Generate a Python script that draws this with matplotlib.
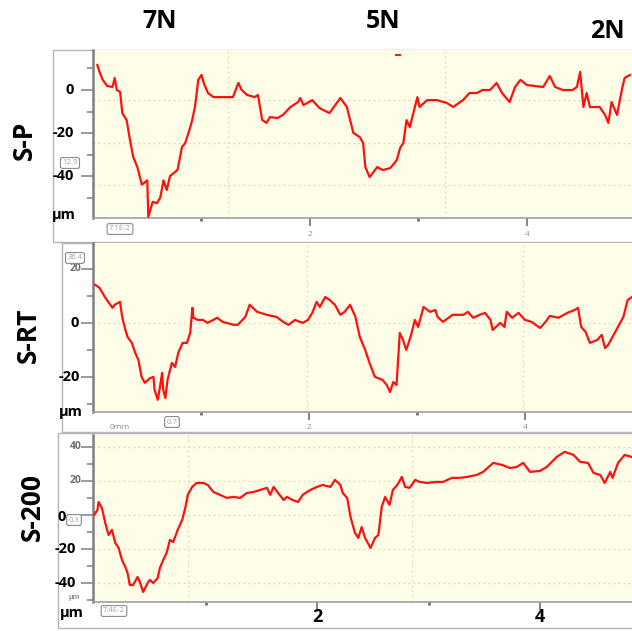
import matplotlib
matplotlib.use("Agg")
import matplotlib.pyplot as plt
from matplotlib.patches import Rectangle

plt.rcParams['font.family'] = ['Open Sans', 'DejaVu Sans']

# scratch depth profiles, x in mm, depth in um
sp_x = [0.04, 0.06, 0.09, 0.13, 0.18, 0.20, 0.22, 0.25, 0.27, 0.31, 0.34, 0.37, 0.41, 0.45,
        0.50, 0.51, 0.55, 0.59, 0.62, 0.65, 0.68, 0.71, 0.76, 0.78, 0.82, 0.85, 0.88, 0.91,
        0.94, 0.97, 1.00, 1.02, 1.06, 1.11, 1.24, 1.29, 1.34, 1.37, 1.42, 1.49, 1.52, 1.56,
        1.60, 1.63, 1.70, 1.75, 1.82, 1.89, 1.91, 1.94, 2.02, 2.09, 2.18, 2.28, 2.34, 2.40,
        2.46, 2.49, 2.51, 2.55, 2.62, 2.67, 2.74, 2.80, 2.83, 2.86, 2.89, 2.92, 2.99, 3.01,
        3.08, 3.17, 3.26, 3.32, 3.41, 3.47, 3.54, 3.59, 3.66, 3.72, 3.77, 3.84, 3.89, 3.94,
        4.00, 4.15, 4.21, 4.26, 4.33, 4.42, 4.46, 4.49, 4.52, 4.55, 4.58, 4.67, 4.72, 4.75,
        4.78, 4.83, 4.88, 4.90, 4.95]
sp_y = [11.6, 8.4, 4.7, 1.9, 1.4, 5.6, 0.0, -0.9, -10.7, -14.0, -23.0, -31.0, -36.0, -44.0,
        -42.0, -59.0, -52.0, -52.6, -50.0, -42.0, -46.5, -40.0, -38.0, -37.0, -26.5, -24.7, -20.0, -14.9,
        -7.9, 4.7, 7.0, 3.3, -1.4, -3.3, -3.3, -3.3, 3.3, 0.0, -2.3, -3.3, -2.3, -14.0,
        -15.3, -12.6, -13.0, -11.6, -7.9, -5.6, -3.7, -7.0, -4.7, -8.5, -10.7, -3.7, -7.9, -20.0,
        -21.9, -24.7, -35.8, -40.5, -35.8, -37.2, -36.3, -32.6, -27.0, -24.7, -14.0, -17.2, -3.3, -7.9,
        -4.7, -4.7, -6.0, -7.9, -4.7, -1.4, -1.4, 0.0, 0.0, 3.3, -1.4, -5.6, 1.4, 4.7,
        2.3, 1.4, 6.5, 1.4, 0.0, 0.0, 1.4, 8.4, -7.9, -1.4, -7.9, -7.9, -11.6, -15.3,
        -5.6, -11.6, 1.4, 5.6, 7.0]
sp_spot_x = [2.79, 2.83]
sp_spot_y = [16.3, 16.3]

srt_x = [0.02, 0.06, 0.11, 0.18, 0.20, 0.25, 0.27, 0.30, 0.32, 0.36, 0.39, 0.42, 0.45, 0.48,
         0.53, 0.56, 0.57, 0.60, 0.62, 0.64, 0.65, 0.67, 0.69, 0.73, 0.76, 0.79, 0.83, 0.87,
         0.90, 0.92, 0.93, 0.97, 1.02, 1.06, 1.15, 1.20, 1.30, 1.34, 1.41, 1.45, 1.52, 1.61,
         1.70, 1.76, 1.81, 1.87, 1.94, 1.99, 2.03, 2.07, 2.10, 2.15, 2.19, 2.24, 2.29, 2.33,
         2.38, 2.43, 2.47, 2.52, 2.56, 2.61, 2.68, 2.72, 2.75, 2.78, 2.81, 2.84, 2.87, 2.90,
         2.94, 2.98, 3.01, 3.06, 3.12, 3.17, 3.19, 3.24, 3.33, 3.43, 3.47, 3.52, 3.58, 3.63,
         3.68, 3.70, 3.77, 3.81, 3.83, 3.88, 3.94, 4.00, 4.06, 4.14, 4.19, 4.23, 4.31, 4.39,
         4.46, 4.49, 4.52, 4.56, 4.60, 4.67, 4.71, 4.74, 4.77, 4.81, 4.86, 4.91, 4.95, 4.99]
srt_y = [14.1, 13.0, 9.6, 5.6, 6.7, 7.8, 2.2, -2.6, -5.2, -7.4, -11.0, -13.7, -20.0, -22.2,
         -20.4, -20.0, -24.8, -28.5, -23.7, -18.5, -24.8, -27.8, -21.1, -14.8, -16.3, -11.0, -7.4, -7.4,
         -3.7, 5.6, 1.9, 1.1, 1.1, 0.0, 1.9, 0.4, -0.7, -0.7, 2.2, 6.7, 4.1, 3.0,
         2.2, 0.4, -0.7, 1.1, 0.0, 1.1, 3.7, 7.8, 5.9, 9.6, 8.5, 6.7, 3.0, 4.1,
         6.7, 2.2, -5.2, -10.0, -14.8, -20.0, -21.1, -23.0, -25.6, -21.9, -23.0, -3.7, -6.3, -10.0,
         -5.2, 1.1, -1.5, 5.9, 4.1, 4.8, 2.2, 0.4, 3.0, 3.0, 4.1, 1.9, 3.0, 3.7,
         1.1, -2.6, 0.0, -1.5, 4.1, 1.9, 3.7, 1.1, 0.4, -1.9, 0.4, 2.6, 1.9, 3.7,
         4.8, 5.6, -1.5, -3.3, -7.4, -6.3, -4.4, -9.3, -8.1, -5.2, -1.5, 2.2, 8.5, 9.6]

s200_x = [0.00, 0.03, 0.04, 0.07, 0.10, 0.13, 0.16, 0.19, 0.22, 0.25, 0.28, 0.30, 0.32, 0.35,
          0.39, 0.41, 0.44, 0.48, 0.50, 0.53, 0.57, 0.59, 0.62, 0.65, 0.68, 0.71, 0.75, 0.79,
          0.82, 0.84, 0.88, 0.92, 0.98, 1.02, 1.07, 1.13, 1.19, 1.25, 1.31, 1.37, 1.43, 1.49,
          1.55, 1.58, 1.61, 1.65, 1.70, 1.73, 1.78, 1.83, 1.87, 1.94, 2.00, 2.05, 2.12, 2.16,
          2.21, 2.23, 2.27, 2.30, 2.34, 2.37, 2.40, 2.43, 2.48, 2.52, 2.55, 2.58, 2.61, 2.65,
          2.68, 2.72, 2.76, 2.79, 2.83, 2.88, 2.92, 2.99, 3.06, 3.13, 3.21, 3.28, 3.35, 3.43,
          3.49, 3.58, 3.66, 3.73, 3.79, 3.85, 3.91, 4.00, 4.06, 4.15, 4.22, 4.30, 4.36, 4.43,
          4.48, 4.54, 4.58, 4.63, 4.65, 4.70, 4.76, 4.82]
s200_y = [0.0, 2.9, 7.6, 4.1, -4.7, -11.8, -8.8, -16.5, -19.4, -26.5, -30.6, -34.1, -41.2, -41.2,
          -36.5, -39.4, -45.3, -40.0, -38.2, -40.0, -37.1, -31.2, -26.5, -22.4, -14.7, -15.9, -8.8, -2.9,
          4.7, 11.8, 16.5, 18.8, 18.8, 17.6, 13.5, 11.8, 10.0, 10.6, 10.0, 12.9, 13.5, 14.7,
          15.9, 11.8, 16.5, 12.9, 8.8, 10.6, 8.8, 7.6, 11.8, 14.7, 16.5, 17.6, 16.5, 20.6,
          17.6, 12.9, 10.0, -1.2, -10.6, -13.5, -7.1, -13.5, -19.4, -13.5, -11.8, 4.7, 10.6, 5.9,
          14.7, 17.6, 22.4, 16.5, 15.9, 20.6, 19.4, 18.8, 19.4, 19.4, 21.8, 21.8, 22.4, 23.5,
          25.3, 30.6, 29.4, 27.6, 28.2, 30.6, 25.3, 25.9, 28.2, 34.1, 37.1, 35.3, 31.2, 30.6,
          24.7, 23.5, 18.8, 25.3, 21.8, 30.6, 35.3, 34.1]

loads = ['7N', '5N', '2N']
samples = ['S-P', 'S-RT', 'S-200']

W, H = 632, 631
YELLOW = '#fefee8'
RED = '#ff1010'
GREY = '#8c8c8c'

fig = plt.figure(figsize=(W / 100, H / 100), dpi=100)
fig.patch.set_facecolor('white')


def fx(px):
    return px / W


def fy(py):
    return 1 - py / H


def frame(x0, y0, x1, y1):
    fig.add_artist(Rectangle((fx(x0), fy(y1)), fx(x1 - x0), (y1 - y0) / H,
                             transform=fig.transFigure, fc='white', ec='#b5b5b5',
                             lw=1.0, zorder=-2))


def panel(x0, y0, x1, y1, xlim, ylim, xs, ys, ymaj, ymin, hgrid, vgrid):
    ax = fig.add_axes([fx(x0), fy(y1), fx(x1 - x0), (y1 - y0) / H])
    ax.set_facecolor(YELLOW)
    for v in hgrid:
        ax.axhline(v, color='#dedbb4', lw=0.9, ls=(0, (1.5, 2.5)), zorder=1)
    for v in vgrid:
        ax.axvline(v, color='#dedbb4', lw=0.9, ls=(0, (1.5, 2.5)), zorder=1)
    ax.plot(xs, ys, color=RED, lw=1.6, solid_joinstyle='round', zorder=3)
    ax.set_xlim(*xlim)
    ax.set_ylim(*ylim)
    for s in ['top', 'right']:
        ax.spines[s].set_visible(False)
    ax.spines['left'].set_color('#808080')
    ax.spines['left'].set_linewidth(1.8)
    ax.spines['bottom'].set_color('#a0a0a0')
    ax.spines['bottom'].set_linewidth(1.2)
    ax.set_yticks(ymaj)
    ax.set_yticks(ymin, minor=True)
    ax.set_xticks([2, 4])
    ax.set_xticks([1, 3], minor=True)
    ax.tick_params(axis='y', which='major', length=9, width=1.2, color='#8a8a8a', labelleft=False)
    ax.tick_params(axis='y', which='minor', length=4, width=1.2, color='#8a8a8a')
    ax.tick_params(axis='x', which='major', length=6, width=1.2, color='#707070', labelbottom=False)
    ax.tick_params(axis='x', which='minor', length=2, width=2, color='#707070')
    return ax


def ylabel(ax, val, s, xpx, x0, x1, **kw):
    frac = (xpx - x0) / (x1 - x0)
    opts = dict(ha='right', va='center', fontsize=10.5, fontweight='bold', color='black')
    opts.update(kw)
    ax.text(frac, val, s, transform=ax.get_yaxis_transform(), clip_on=False, **opts)


def tag(xpx, ypx, s):
    fig.text(fx(xpx), fy(ypx), s, ha='center', va='center', fontsize=5.5, color='#a0a0a0',
             bbox=dict(boxstyle='round,pad=0.25', fc='white', ec='#8a8a8a', lw=0.8))


# frames behind each profile
frame(53, 50, 645, 242)
frame(62, 243, 645, 432)
frame(58, 433, 645, 628)

# S-P
ax1 = panel(93, 50, 632, 218, (0, 4.968), (-59.5, 18.6), sp_x, sp_y,
            [0, -20, -40], [10, -10, -30, -50], [-4.7, -24.5, -44.3], [1.24, 3.24])
ax1.plot(sp_spot_x, sp_spot_y, color=RED, lw=1.4, zorder=3)
for v, s in [(0, '0'), (-20, '-20'), (-40, '-40')]:
    ylabel(ax1, v, s, 74, 93, 632)
ylabel(ax1, -58, 'µm', 76, 93, 632)
for v in [2, 4]:
    ax1.text(v, -0.1, str(v), transform=ax1.get_xaxis_transform(), ha='center', va='center',
             fontsize=6, color='#909090')
tag(70, 163, '12.9')
tag(120, 229, '7.1E-2')

# S-RT
ax2 = panel(93, 243, 632, 412, (0, 4.99), (-33.0, 29.6), srt_x, srt_y,
            [20, 0, -20], [10, -10, -30], [0], [1.98, 3.98])
ylabel(ax2, 20, '20', 82, 93, 632, fontsize=7.5, color='#707070')
ylabel(ax2, 0, '0', 79, 93, 632)
ylabel(ax2, -20, '-20', 80, 93, 632)
ylabel(ax2, -33, 'µm', 83, 93, 632)
for v in [2, 4]:
    ax2.text(v, -0.09, str(v), transform=ax2.get_xaxis_transform(), ha='center', va='center',
             fontsize=6, color='#909090')
ax2.text(0.03, -0.09, '0mm', transform=ax2.transAxes, ha='left', va='center',
         fontsize=6, color='#909090')
tag(75, 258, '36.4')
tag(172, 422, '0.7')

# S-200
ax3 = panel(93, 435, 632, 602, (-0.01, 4.825), (-51.2, 47.0), s200_x, s200_y,
            [40, 20, 0, -20, -40], [30, 10, -10, -30, -50], [40, 20, 0, -20, -40], [0.84, 2.85])
ylabel(ax3, 40, '40', 82, 93, 632, fontsize=7.5, color='#707070')
ylabel(ax3, 20, '20', 82, 93, 632, fontsize=7.5, color='#707070')
ylabel(ax3, -1, '0', 66, 93, 632)
ylabel(ax3, -20, '-20', 76, 93, 632)
ylabel(ax3, -40, '-40', 76, 93, 632)
ylabel(ax3, -48.5, 'µm', 80, 93, 632, fontsize=5, color='#909090')
ax3.text(-0.04, -0.065, 'µm', transform=ax3.transAxes, ha='center', va='center',
         fontsize=10.5, fontweight='bold')
for v in [2, 4]:
    ax3.text(v, -0.09, str(v), transform=ax3.get_xaxis_transform(), ha='center', va='center',
             fontsize=13, fontweight='bold')
tag(74, 520, '0.3')
tag(114, 611, '7.4E-2')

# load and sample labels
for s, (xp, yp) in zip(loads, [(160, 22), (383, 22), (607, 32)]):
    fig.text(fx(xp), fy(yp), s, ha='center', va='center', fontsize=18, fontweight='bold')
for s, (xp, yp) in zip(samples, [(24, 140), (28, 335), (32, 507)]):
    fig.text(fx(xp), fy(yp), s, ha='center', va='center', fontsize=19, fontweight='bold',
             rotation=90)

fig.savefig('out.png', dpi=100, facecolor='white')
